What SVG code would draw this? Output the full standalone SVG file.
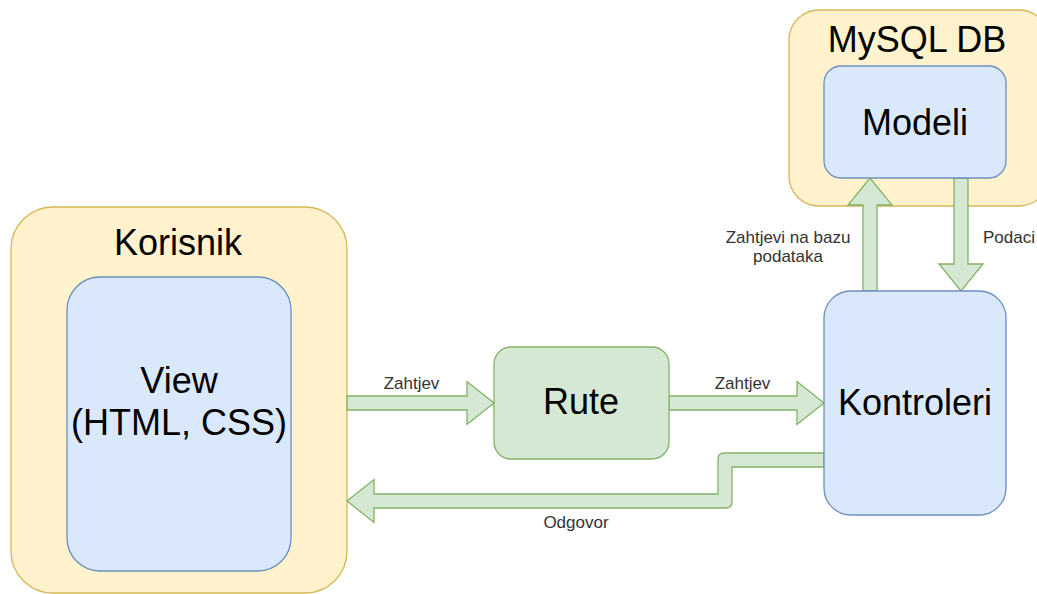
<svg xmlns="http://www.w3.org/2000/svg" width="1037" height="594" viewBox="0 0 1037 594">
<style>
.yel{fill:#fff2cc;stroke:#d6b656;stroke-width:1.3}
.blu{fill:#dae8fc;stroke:#6c8ebf;stroke-width:1.3}
.grn{fill:#d5e8d4;stroke:#82b366;stroke-width:1.3}
.arr{fill:#d5e8d4;stroke:#82b366;stroke-width:1.3;stroke-linejoin:miter}
.big{font-family:"Liberation Sans",Arial,Helvetica,sans-serif;font-size:36px;fill:#000;text-anchor:middle}
.sm{font-family:"Liberation Sans",Arial,Helvetica,sans-serif;font-size:17px;fill:#333;text-anchor:middle}
</style>
<rect width="1037" height="594" fill="#fff"/>
<g id="korisnik">
<rect class="yel" x="11" y="207" width="336" height="386" rx="42" ry="42"/>
<text class="big" x="178" y="255">Korisnik</text>
</g>
<g id="mysql">
<rect class="yel" x="789" y="10" width="260" height="196" rx="30" ry="30"/>
<text class="big" x="917" y="52">MySQL DB</text>
</g>
<g id="connectors">
<polygon class="arr" points="347,396 467,396 467,381.5 494,403 467,424.5 467,410 347,410"/>
<polygon class="arr" points="669,396 797,396 797,381.5 824,403 797,424.5 797,410 669,410"/>
<polygon class="arr" points="863,291 863,205 848,205 870,178 892,205 877,205 877,291"/>
<polygon class="arr" points="954,178 968,178 968,264 983,264 961,291 939,264 954,264"/>
<path class="arr" d="M824,453 L724,453 Q718,453 718,459 L718,494 L374,494 L374,479.5 L347,501 L374,522.5 L374,508 L726,508 Q732,508 732,502 L732,467 L824,467 Z"/>
<text class="sm" x="411.5" y="389">Zahtjev</text>
<text class="sm" x="742.5" y="389">Zahtjev</text>
<text class="sm" x="576" y="528">Odgovor</text>
<text class="sm" x="788" y="243">Zahtjevi na bazu</text>
<text class="sm" x="788" y="262">podataka</text>
<text class="sm" x="983" y="243" style="text-anchor:start">Podaci</text>
</g>
<g id="view">
<rect class="blu" x="67" y="277" width="224" height="294" rx="33" ry="33"/>
<text class="big" x="179" y="393">View</text>
<text class="big" x="179" y="435">(HTML, CSS)</text>
</g>
<g id="rute">
<rect class="grn" x="494" y="347" width="175" height="112" rx="17" ry="17"/>
<text class="big" x="581" y="414">Rute</text>
</g>
<g id="kontroleri">
<rect class="blu" x="824" y="291" width="182" height="224" rx="27" ry="27"/>
<text class="big" x="915" y="415">Kontroleri</text>
</g>
<g id="modeli">
<rect class="blu" x="824" y="66" width="182" height="112" rx="17" ry="17"/>
<text class="big" x="915" y="135">Modeli</text>
</g>
</svg>
